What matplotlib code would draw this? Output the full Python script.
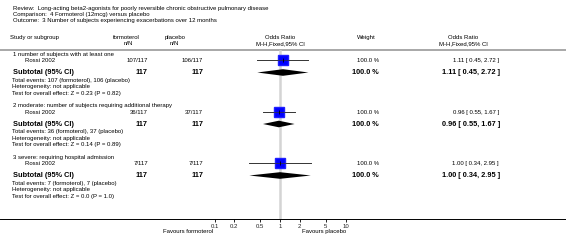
import matplotlib
matplotlib.use("Agg")
import matplotlib.pyplot as plt
import numpy as np

plt.rcParams['font.family'] = ['Liberation Sans', 'DejaVu Sans']

# data
group_names = ["1 number of subjects with at least one",
               "2 moderate: number of subjects requiring additional therapy",
               "3 severe: requiring hospital admission"]
study_names = ["Rossi 2002", "Rossi 2002", "Rossi 2002"]
form_events = [107, 36, 7]
form_total = [117, 117, 117]
plac_events = [106, 37, 7]
plac_total = [117, 117, 117]
weights = [100.0, 100.0, 100.0]
odds_ratio = [1.11, 0.96, 1.00]
ci_low = [0.45, 0.55, 0.34]
ci_high = [2.72, 1.67, 2.95]
z_values = ["0.23", "0.14", "0.0"]
p_values = ["0.82", "0.89", "1.0"]
tick_vals = [0.1, 0.2, 0.5, 1, 2, 5, 10]
tick_labels = ["0.1", "0.2", "0.5", "1", "2", "5", "10"]

W, H = 566, 249
fig = plt.figure(figsize=(W / 100, H / 100), dpi=100)

# text layer in pixel coords
tx = fig.add_axes([0, 0, 1, 1])
tx.set_xlim(0, W)
tx.set_ylim(H, 0)
tx.axis("off")

# forest layer: log x, 1 at x=280 px, one decade = 65.5 px
axis_y = 219
fx = fig.add_axes([0, (H - axis_y) / H, 1, axis_y / H], zorder=2)
fx.patch.set_alpha(0)
fx.set_xscale("log")
dec = 65.5
fx.set_xlim(10 ** (-280 / dec), 10 ** ((W - 280) / dec))
fx.set_ylim(axis_y, 0)
for s in ["top", "left", "right"]:
    fx.spines[s].set_visible(False)
fx.spines["bottom"].set_linewidth(0.7)
fx.set_yticks([])
fx.set_xticks(tick_vals)
fx.set_xticklabels(tick_labels)
fx.xaxis.set_minor_locator(matplotlib.ticker.NullLocator())
fx.tick_params(axis="x", length=2, width=0.6, pad=1.5, labelsize=4.3,
               labelcolor="#222222")

small = 4.3
big = 5.3

# header
tx.text(13, 8.5, "Review:  Long-acting beta2-agonists for poorly reversible chronic obstructive pulmonary disease",
        fontsize=small, va="center")
tx.text(13, 14.5, "Comparison:  4 Formoterol (12mcg) versus placebo", fontsize=small, va="center")
tx.text(13, 20.5, "Outcome:  3 Number of subjects experiencing exacerbations over 12 months",
        fontsize=small, va="center")

h1, h2 = 37, 43.5
tx.text(10, h1, "Study or subgroup", fontsize=small, va="center")
tx.text(126, h1, "formoterol", fontsize=small, va="center", ha="center")
tx.text(128, h2, "n/N", fontsize=small, va="center", ha="center")
tx.text(175, h1, "placebo", fontsize=small, va="center", ha="center")
tx.text(174, h2, "n/N", fontsize=small, va="center", ha="center")
tx.text(280, h1, "Odds Ratio", fontsize=small, va="center", ha="center")
tx.text(280, h2, "M-H,Fixed,95% CI", fontsize=small, va="center", ha="center")
tx.text(366, h1, "Weight", fontsize=small, va="center", ha="center")
tx.text(463, h1, "Odds Ratio", fontsize=small, va="center", ha="center")
tx.text(463, h2, "M-H,Fixed,95% CI", fontsize=small, va="center", ha="center")
tx.axhline(50, color="#999999", lw=1.2)

# reference line at 1
fx.plot([1, 1], [51, axis_y], color="#d4d4d4", lw=1.8, zorder=1)

for k in range(3):
    base = 54 + 51.5 * k
    ys = base + 6.5
    yt = base + 18.5
    tx.text(13, base, group_names[k], fontsize=small, va="center")
    tx.text(25, ys, study_names[k], fontsize=small, va="center")
    tx.text(148, ys, f"{form_events[k]}/{form_total[k]}", fontsize=small, va="center", ha="right")
    tx.text(203, ys, f"{plac_events[k]}/{plac_total[k]}", fontsize=small, va="center", ha="right")
    tx.text(379, ys, f"{weights[k]:.1f} %", fontsize=small, va="center", ha="right")
    tx.text(499, ys, f"{odds_ratio[k]:.2f} [ {ci_low[k]:.2f}, {ci_high[k]:.2f} ]",
            fontsize=small, va="center", ha="right")

    tx.text(13, yt, "Subtotal (95% CI)", fontsize=big, fontweight="bold", va="center")
    tx.text(148, yt, f"{form_total[k]}", fontsize=big, fontweight="bold", va="center", ha="right")
    tx.text(203, yt, f"{plac_total[k]}", fontsize=big, fontweight="bold", va="center", ha="right")
    tx.text(379, yt, f"{weights[k]:.1f} %", fontsize=big, fontweight="bold", va="center", ha="right")
    tx.text(500, yt, f"{odds_ratio[k]:.2f} [ {ci_low[k]:.2f}, {ci_high[k]:.2f} ]",
            fontsize=big, fontweight="bold", va="center", ha="right")

    tx.text(12, base + 26, f"Total events: {form_events[k]} (formoterol), {plac_events[k]} (placebo)",
            fontsize=small, va="center")
    tx.text(12, base + 32.5, "Heterogeneity: not applicable", fontsize=small, va="center")
    tx.text(12, base + 39, f"Test for overall effect: Z = {z_values[k]} (P = {p_values[k]})",
            fontsize=small, va="center")

    # study: CI line + square
    fx.plot([ci_low[k], ci_high[k]], [ys, ys], color="#444444", lw=0.7, zorder=3)
    fx.plot([odds_ratio[k]], [ys], marker="s", markersize=7.2, color="#0000ff",
            markeredgecolor="#2020ff", zorder=4)
    fx.plot([ci_low[k], ci_high[k]], [ys, ys], color="#333333", lw=0.5, zorder=5)
    fx.plot([odds_ratio[k]], [ys], marker="|", markersize=2.5, color="black", mew=0.6, zorder=6)
    # subtotal diamond
    fx.fill([ci_low[k], odds_ratio[k], ci_high[k], odds_ratio[k]],
            [yt, yt - 3.3, yt, yt + 3.3], color="black", lw=0, zorder=4)

tx.text(188, 231, "Favours formoterol", fontsize=small, va="center", ha="center")
tx.text(324, 231, "Favours placebo", fontsize=small, va="center", ha="center")

fig.savefig("out.png", dpi=100)
